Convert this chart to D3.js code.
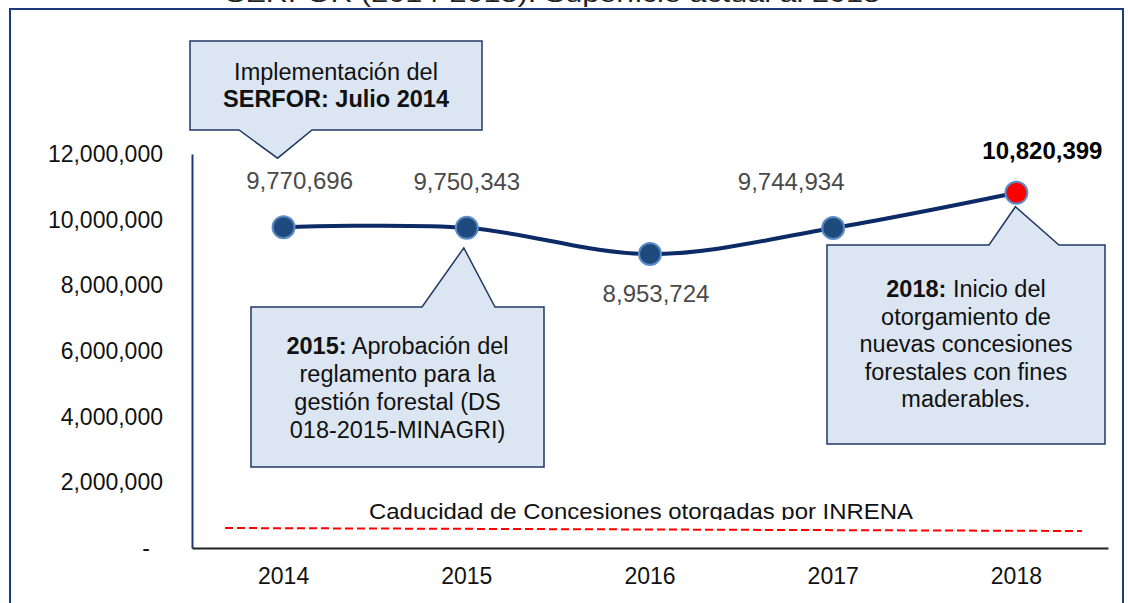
<!DOCTYPE html>
<html>
<head>
<meta charset="utf-8">
<script src="https://cdn.jsdelivr.net/npm/d3@7"></script>
<style>
  body { margin: 0; background: #fff; }
  svg { display: block; font-family: "Liberation Sans", Arial, sans-serif; }
</style>
</head>
<body>
<script>
// Data
const years = ["2014", "2015", "2016", "2017", "2018"];
const superficie = [9770696, 9750343, 8953724, 9744934, 10820399];
const yTicks = [0, 2000000, 4000000, 6000000, 8000000, 10000000, 12000000];
const titulo = "SERFOR (2014-2018): Superficie actual al 2018";
const caducidadLabel = "Caducidad de Concesiones otorgadas por INRENA";

const notas = [
  { year: "2014", lines: [[["Implementación del", false]], [["SERFOR: Julio 2014", true]]] },
  { year: "2015", lines: [[["2015:", true], [" Aprobación del", false]], [["reglamento para la", false]],
      [["gestión forestal (DS", false]], [["018-2015-MINAGRI)", false]]] },
  { year: "2018", lines: [[["2018:", true], [" Inicio del", false]], [["otorgamiento de", false]],
      [["nuevas concesiones", false]], [["forestales con fines", false]], [["maderables.", false]]] }
];

const width = 1128, height = 603;
const navy = "#1f3a7a";

const svg = d3.select("body").append("svg")
  .attr("width", width)
  .attr("height", height);

// Frame
svg.append("rect")
  .attr("x", 10).attr("y", 9)
  .attr("width", 1113).attr("height", 640)
  .attr("fill", "none")
  .attr("stroke", navy)
  .attr("stroke-width", 2);

// Title (cut at the top of the picture, as in the source)
svg.append("text")
  .attr("x", 225).attr("y", 2)
  .attr("textLength", 655)
  .attr("lengthAdjust", "spacingAndGlyphs")
  .attr("font-size", 24)
  .attr("fill", "#222")
  .text(titulo);

// Scales
const x = d3.scaleBand().domain(years).range([192, 1108]);
const y = d3.scaleLinear().domain([0, 12000000]).range([548, 154]);
const cx = (d) => x(d) + x.bandwidth() / 2;

// Axes
const yAxis = d3.axisLeft(y)
  .tickValues(yTicks)
  .tickSize(0)
  .tickPadding(29)
  .tickFormat((d) => (d === 0 ? "-" : d3.format(",")(d)));

const gy = svg.append("g").attr("transform", "translate(192,0)").call(yAxis);
gy.select(".domain").attr("stroke", navy).attr("stroke-width", 2);
gy.selectAll("text")
  .attr("font-size", 23)
  .attr("font-family", "Liberation Sans, Arial, sans-serif")
  .attr("fill", "#111")
  .attr("dx", (d) => (d === 0 ? -13 : 0));

const xAxis = d3.axisBottom(x).tickSize(0).tickPadding(20);
const gx = svg.append("g").attr("transform", "translate(0,548)").call(xAxis);
gx.select(".domain").attr("stroke", "#222").attr("stroke-width", 2);
gx.selectAll("text")
  .attr("font-size", 23)
  .attr("font-family", "Liberation Sans, Arial, sans-serif")
  .attr("fill", "#111");

// Dashed INRENA line and its clipped label
svg.append("line")
  .attr("x1", 225).attr("y1", 528)
  .attr("x2", 1082).attr("y2", 531)
  .attr("stroke", "#ff0000")
  .attr("stroke-width", 2)
  .attr("stroke-dasharray", "8,4");

svg.append("clipPath").attr("id", "clipLbl")
  .append("rect").attr("x", 0).attr("y", 0).attr("width", width).attr("height", 520);

svg.append("text")
  .attr("clip-path", "url(#clipLbl)")
  .attr("x", 369).attr("y", 519)
  .attr("textLength", 544)
  .attr("lengthAdjust", "spacingAndGlyphs")
  .attr("font-size", 22)
  .attr("fill", "#111")
  .text(caducidadLabel);

// Callouts
const calloutBoxes = {
  "2014": { x0: 190, y0: 41, x1: 482, y1: 130, b0: 239, b1: 312, dx: -6, dy: -69, side: "bottom", lineY: 80, step: 27 },
  "2015": { x0: 251, y0: 307, x1: 544, y1: 467, b0: 422, b1: 495, dx: -3, dy: 20, side: "top", lineY: 354, step: 28 },
  "2018": { x0: 827, y0: 245, x1: 1105, y1: 444, b0: 989, b1: 1059, dx: -1, dy: 14, side: "top", lineY: 297, step: 27.5 }
};

notas.forEach((n) => {
  const b = calloutBoxes[n.year];
  const i = years.indexOf(n.year);
  const tx = cx(n.year) + b.dx;
  const ty = y(superficie[i]) + b.dy;
  const p = d3.path();
  p.moveTo(b.x0, b.y0);
  if (b.side === "top") {
    p.lineTo(b.b0, b.y0); p.lineTo(tx, ty); p.lineTo(b.b1, b.y0);
  }
  p.lineTo(b.x1, b.y0);
  p.lineTo(b.x1, b.y1);
  if (b.side === "bottom") {
    p.lineTo(b.b1, b.y1); p.lineTo(tx, ty); p.lineTo(b.b0, b.y1);
  }
  p.lineTo(b.x0, b.y1);
  p.closePath();

  svg.append("path")
    .attr("d", p.toString())
    .attr("fill", "#dce6f2")
    .attr("stroke", "#1f3864")
    .attr("stroke-width", 1.5);

  const t = svg.append("text")
    .attr("text-anchor", "middle")
    .attr("font-size", 23.5)
    .attr("fill", "#111");
  n.lines.forEach((line, k) => {
    const row = t.append("tspan")
      .attr("x", (b.x0 + b.x1) / 2)
      .attr("y", b.lineY + k * b.step);
    line.forEach(([s, bold], j) => {
      const part = j === 0 ? row : t.append("tspan");
      part.attr("font-weight", bold ? "bold" : "normal").text(s);
    });
  });
});

// Line
const line = d3.line()
  .x((d, i) => cx(years[i]))
  .y((d) => y(d))
  .curve(d3.curveCardinal.tension(0));

svg.append("path")
  .datum(superficie)
  .attr("d", line)
  .attr("fill", "none")
  .attr("stroke", "#0c2a66")
  .attr("stroke-width", 4);

// Markers
svg.selectAll(".pt")
  .data(superficie)
  .enter()
  .append("circle")
  .attr("class", "pt")
  .attr("cx", (d, i) => cx(years[i]))
  .attr("cy", (d) => y(d))
  .attr("r", 11)
  .attr("fill", (d, i) => (i === years.length - 1 ? "#ff0000" : "#1f4a7e"))
  .attr("stroke", "#5b8cc8")
  .attr("stroke-width", 2);

// Data labels (horizontal / vertical offsets from each point)
const labelDx = [16, 0, 6, -42, 26];
const labelDy = [-38, -38, 48, -38, -34];

svg.selectAll(".lbl")
  .data(superficie)
  .enter()
  .append("text")
  .attr("class", "lbl")
  .attr("x", (d, i) => cx(years[i]) + labelDx[i])
  .attr("y", (d, i) => y(d) + labelDy[i])
  .attr("text-anchor", "middle")
  .attr("font-size", 24)
  .attr("font-weight", (d, i) => (i === years.length - 1 ? "bold" : "normal"))
  .attr("fill", (d, i) => (i === years.length - 1 ? "#000" : "#4a4a4a"))
  .text((d) => d3.format(",")(d));
</script>
</body>
</html>
